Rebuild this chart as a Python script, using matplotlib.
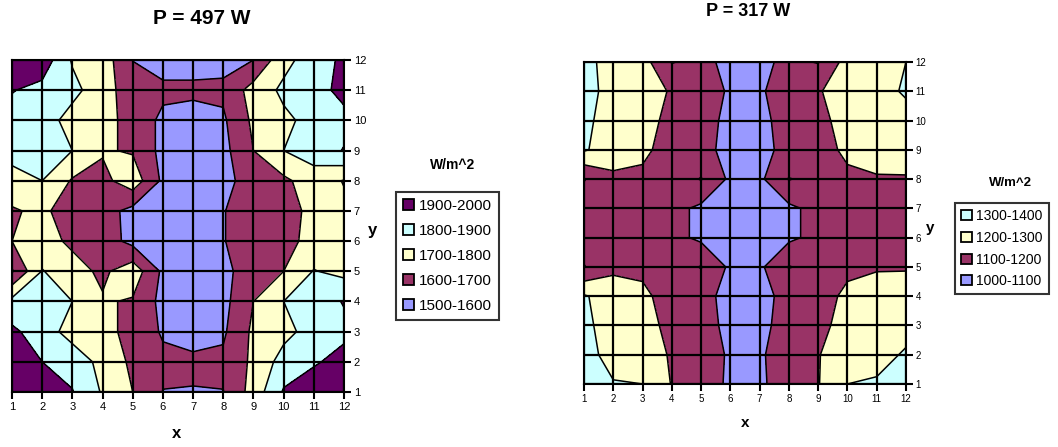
import matplotlib.pyplot as plt
import numpy as np
from matplotlib.patches import Patch

plt.rcParams['font.family'] = ['Liberation Sans', 'DejaVu Sans']

# grid positions (both charts use a 12 x 12 grid)
x = np.arange(1, 13)
y = np.arange(1, 13)

# P = 497 W, rows from y=12 (top) down to y=1
z_497 = [
    [1950, 1960, 1790, 1756, 1598, 1560, 1560, 1570, 1600, 1770, 1850, 1920],
    [1905, 1870, 1830, 1740, 1650, 1620, 1620, 1620, 1740, 1820, 1860, 1930],
    [1860, 1850, 1760, 1740, 1660, 1580, 1560, 1585, 1720, 1780, 1830, 1870],
    [1840, 1850, 1800, 1710, 1690, 1570, 1550, 1570, 1700, 1800, 1850, 1905],
    [1760, 1800, 1690, 1670, 1760, 1580, 1550, 1560, 1660, 1680, 1750, 1695],
    [1690, 1720, 1650, 1640, 1570, 1540, 1540, 1595, 1660, 1670, 1720, 1720],
    [1700, 1740, 1680, 1650, 1570, 1540, 1540, 1595, 1660, 1670, 1730, 1760],
    [1590, 1805, 1740, 1680, 1760, 1580, 1550, 1570, 1660, 1700, 1805, 1770],
    [1830, 1850, 1800, 1710, 1690, 1570, 1550, 1570, 1700, 1800, 1860, 1905],
    [1920, 1850, 1760, 1740, 1660, 1590, 1560, 1585, 1720, 1770, 1840, 1880],
    [1930, 1900, 1860, 1770, 1680, 1620, 1620, 1620, 1720, 1840, 1890, 1930],
    [1950, 1940, 1905, 1790, 1700, 1598, 1595, 1598, 1740, 1910, 1950, 1950],
]
levels_497 = [1500, 1600, 1700, 1800, 1900, 2000]
labels_497 = ['1500-1600', '1600-1700', '1700-1800', '1800-1900', '1900-2000']

# P = 317 W, rows from y=12 (top) down to y=1
z_317 = [
    [1330, 1260, 1240, 1095, 1130, 1070, 1080, 1120, 1095, 1240, 1260, 1300],
    [1340, 1260, 1250, 1190, 1140, 1090, 1090, 1140, 1190, 1260, 1270, 1310],
    [1320, 1260, 1240, 1170, 1130, 1080, 1080, 1130, 1170, 1240, 1260, 1270],
    [1310, 1250, 1220, 1160, 1130, 1070, 1070, 1130, 1160, 1220, 1250, 1260],
    [1095, 1180, 1180, 1150, 1205, 1080, 1080, 1205, 1160, 1180, 1190, 1190],
    [1150, 1150, 1140, 1130, 1080, 1060, 1060, 1080, 1130, 1150, 1160, 1170],
    [1150, 1150, 1140, 1130, 1080, 1060, 1060, 1080, 1130, 1150, 1160, 1170],
    [1095, 1180, 1180, 1150, 1205, 1080, 1080, 1205, 1160, 1180, 1190, 1190],
    [1310, 1250, 1220, 1160, 1130, 1070, 1070, 1130, 1160, 1220, 1250, 1260],
    [1320, 1260, 1240, 1170, 1130, 1080, 1080, 1130, 1170, 1240, 1260, 1270],
    [1330, 1270, 1250, 1190, 1140, 1090, 1090, 1140, 1195, 1260, 1270, 1310],
    [1340, 1305, 1300, 1195, 1130, 1090, 1090, 1130, 1195, 1300, 1310, 1330],
]
levels_317 = [1000, 1100, 1200, 1300, 1400]
labels_317 = ['1000-1100', '1100-1200', '1200-1300', '1300-1400']

# excel palette, lowest band first
band_colors = ['#9999FF', '#993366', '#FFFFCC', '#CCFFFF', '#660066']


def draw_contour(ax, z, levels, fs):
    X, Y = np.meshgrid(x, y)
    Z = np.flipud(np.array(z, dtype=float))
    ax.contourf(X, Y, Z, levels=levels, colors=band_colors[:len(levels) - 1])
    ax.contour(X, Y, Z, levels=levels[1:-1], colors='black', linewidths=1.1)
    for v in x:
        ax.axvline(v, color='black', lw=1.6, zorder=3)
    for v in y:
        ax.axhline(v, color='black', lw=1.6, zorder=3)
    ax.set_xlim(1, 12)
    ax.set_ylim(1, 12)
    ax.set_xticks(x)
    ax.set_yticks(y)
    ax.yaxis.tick_right()
    ax.tick_params(axis='both', direction='out', length=5, width=1.5,
                   labelsize=fs, pad=2, colors='black')
    for s in ax.spines.values():
        s.set_linewidth(1.5)


def add_legend(fig, labels, x0, y0, fs, spacing):
    n = len(labels)
    handles = [Patch(facecolor=band_colors[i], edgecolor='black', linewidth=1.3)
               for i in range(n)][::-1]
    leg = fig.legend(handles, labels[::-1], loc='upper left',
                     bbox_to_anchor=(x0 / 1058, 1 - y0 / 447),
                     frameon=True, fancybox=False, edgecolor='black',
                     fontsize=fs, handlelength=0.75, handleheight=0.75,
                     handletextpad=0.3, labelspacing=spacing, borderpad=0.45,
                     borderaxespad=0)
    leg.get_frame().set_linewidth(1.5)


fig = plt.figure(figsize=(10.58, 4.47), dpi=100)

ax1 = fig.add_axes([12 / 1058, 1 - 392 / 447, 332 / 1058, 332 / 447])
draw_contour(ax1, z_497, levels_497, 8)
ax2 = fig.add_axes([584 / 1058, 1 - 384 / 447, 322 / 1058, 322 / 447])
draw_contour(ax2, z_317, levels_317, 7)

fig.text(202 / 1058, 1 - 19 / 447, 'P = 497 W', ha='center', va='center',
         fontsize=15, fontweight='bold')
fig.text(748 / 1058, 1 - 11 / 447, 'P = 317 W', ha='center', va='center',
         fontsize=13, fontweight='bold')

fig.text(177 / 1058, 1 - 433 / 447, 'x', ha='center', va='center',
         fontsize=12, fontweight='bold')
fig.text(372 / 1058, 1 - 230 / 447, 'y', ha='center', va='center',
         fontsize=12, fontweight='bold')
fig.text(745 / 1058, 1 - 423 / 447, 'x', ha='center', va='center',
         fontsize=11, fontweight='bold')
fig.text(930 / 1058, 1 - 228 / 447, 'y', ha='center', va='center',
         fontsize=11, fontweight='bold')

fig.text(453 / 1058, 1 - 165 / 447, 'W/m^2', ha='center', va='center',
         fontsize=10, fontweight='bold')
fig.text(1010 / 1058, 1 - 183 / 447, 'W/m^2', ha='center', va='center',
         fontsize=9.5, fontweight='bold')

add_legend(fig, labels_497, 396, 192, 11, 0.72)
add_legend(fig, labels_317, 955, 203, 10, 0.55)

fig.savefig('out.png', dpi=100)
